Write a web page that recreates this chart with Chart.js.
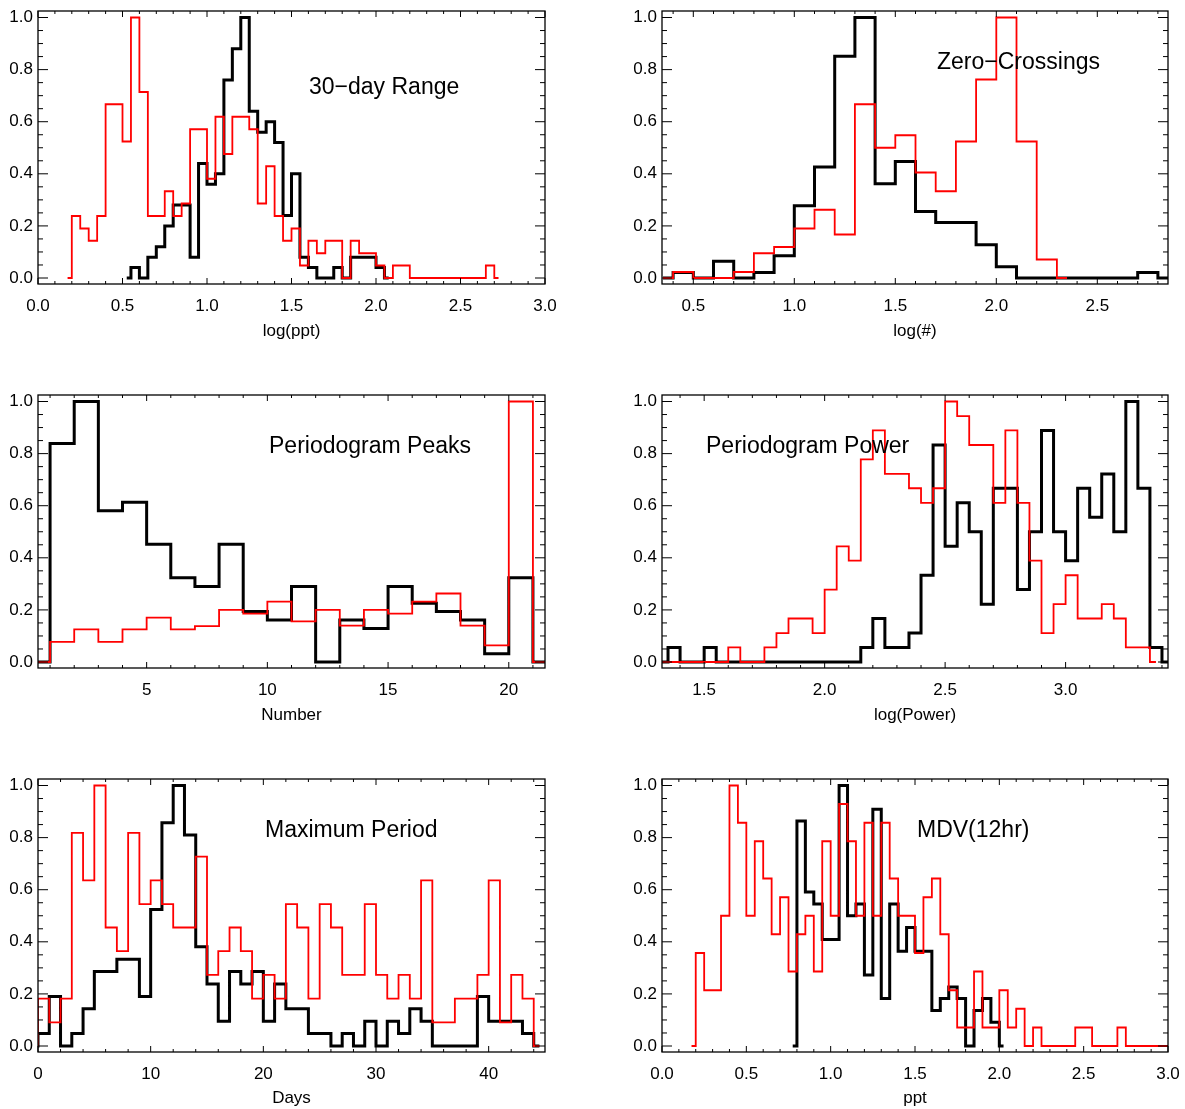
<!DOCTYPE html>
<html>
<head>
<meta charset="utf-8">
<script src="https://cdn.jsdelivr.net/npm/chart.js@4.4.1/dist/chart.umd.min.js"></script>
<style>
  body { margin: 0; background: #fff; overflow: hidden; }
  canvas { position: absolute; }
</style>
</head>
<body>
<canvas id="range" style="left:0;top:0" width="560" height="342"></canvas>
<canvas id="cross" style="left:622px;top:0" width="561" height="342"></canvas>
<canvas id="peaks" style="left:0;top:384px" width="560" height="342"></canvas>
<canvas id="power" style="left:622px;top:384px" width="561" height="342"></canvas>
<canvas id="period" style="left:0;top:768px" width="560" height="341"></canvas>
<canvas id="mdv" style="left:622px;top:768px" width="561" height="341"></canvas>
<script>
// bin centres (x) and normalised counts (y), black = first sample, red = second sample

// 30-day range, log(ppt)
const rangeBins = [0.175,0.225,0.275,0.325,0.375,0.425,0.475,0.525,0.575,0.625,0.675,0.725,0.775,0.825,0.875,0.925,0.975,1.025,1.075,1.125,1.175,1.225,1.275,1.325,1.375,1.425,1.475,1.525,1.575,1.625,1.675,1.725,1.775,1.825,1.875,1.925,1.975,2.025,2.075,2.125,2.175,2.225,2.275,2.325,2.375,2.425,2.475,2.525,2.575,2.625,2.675,2.725];
const rangeRed = [0,0.238,0.19,0.143,0.238,0.667,0.667,0.524,1.0,0.714,0.238,0.238,0.333,0.238,0.286,0.571,0.571,0.381,0.619,0.476,0.619,0.619,0.571,0.286,0.429,0.238,0.143,0.19,0.048,0.143,0.095,0.143,0.143,0,0.143,0.095,0.095,0.048,0,0.048,0.048,0,0,0,0,0,0,0,0,0,0.048,0];
const rangeBlack = [0,0.04,0,0.08,0.12,0.2,0.28,0.28,0.08,0.44,0.36,0.4,0.76,0.88,1.0,0.64,0.56,0.6,0.52,0.24,0.4,0.08,0.04,0,0,0.04,0,0.08,0.08,0.08,0.04,0];

// zero-crossings, log(#)
const crossBins = [0.35,0.45,0.55,0.65,0.75,0.85,0.95,1.05,1.15,1.25,1.35,1.45,1.55,1.65,1.75,1.85,1.95,2.05,2.15,2.25,2.35,2.45,2.55,2.65,2.75,2.85];
const crossRed = [0,0.023,0,0,0.023,0.095,0.119,0.19,0.262,0.167,0.667,0.5,0.548,0.405,0.333,0.524,0.762,1.0,0.524,0.071,0];
const crossBlack = [0,0.021,0,0.064,0,0.021,0.085,0.277,0.426,0.851,1.0,0.362,0.447,0.255,0.213,0.213,0.128,0.043,0,0,0,0,0,0,0.021,0];

// periodogram peaks, number
const peakBins = [0.5,1.5,2.5,3.5,4.5,5.5,6.5,7.5,8.5,9.5,10.5,11.5,12.5,13.5,14.5,15.5,16.5,17.5,18.5,19.5,20.5,21.5];
const peakRed = [0,0.077,0.125,0.077,0.125,0.17,0.125,0.138,0.2,0.186,0.232,0.156,0.2,0.14,0.2,0.186,0.232,0.263,0.14,0.064,1.0,0];
const peakBlack = [0,0.839,1.0,0.581,0.613,0.452,0.323,0.29,0.452,0.194,0.161,0.29,0,0.161,0.129,0.29,0.226,0.194,0.161,0.032,0.323,0];

// periodogram power, log(power)
const powerBins = [1.325,1.375,1.425,1.475,1.525,1.575,1.625,1.675,1.725,1.775,1.825,1.875,1.925,1.975,2.025,2.075,2.125,2.175,2.225,2.275,2.325,2.375,2.425,2.475,2.525,2.575,2.625,2.675,2.725,2.775,2.825,2.875,2.925,2.975,3.025,3.075,3.125,3.175,3.225,3.275,3.325,3.375,3.425];
const powerRed = [0,0,0,0,0,0,0.056,0,0,0.056,0.111,0.167,0.167,0.111,0.278,0.444,0.389,0.778,0.889,0.722,0.722,0.667,0.611,0.667,1.0,0.944,0.833,0.833,0.611,0.889,0.611,0.389,0.111,0.222,0.333,0.167,0.167,0.222,0.167,0.056,0.056,0];
const powerBlack = [0,0.056,0,0,0.056,0,0,0,0,0,0,0,0,0,0,0,0,0.056,0.167,0.056,0.056,0.111,0.333,0.833,0.444,0.611,0.5,0.222,0.667,0.667,0.278,0.5,0.889,0.5,0.389,0.667,0.556,0.722,0.5,1.0,0.667,0.056,0];

// maximum period, days
const periodBins = [-0.5,0.5,1.5,2.5,3.5,4.5,5.5,6.5,7.5,8.5,9.5,10.5,11.5,12.5,13.5,14.5,15.5,16.5,17.5,18.5,19.5,20.5,21.5,22.5,23.5,24.5,25.5,26.5,27.5,28.5,29.5,30.5,31.5,32.5,33.5,34.5,35.5,36.5,37.5,38.5,39.5,40.5,41.5,42.5,43.5,44.5];
const periodRed = [0,0.182,0.091,0.182,0.818,0.636,1.0,0.455,0.364,0.818,0.545,0.636,0.545,0.455,0.455,0.727,0.273,0.364,0.455,0.364,0.182,0.273,0.182,0.545,0.455,0.182,0.545,0.455,0.273,0.273,0.545,0.273,0.182,0.273,0.182,0.636,0.091,0.091,0.182,0.182,0.273,0.636,0.091,0.273,0.182,0];
const periodBlack = [0,0.048,0.19,0,0.048,0.143,0.286,0.286,0.333,0.333,0.19,0.524,0.857,1.0,0.81,0.381,0.238,0.095,0.286,0.238,0.286,0.095,0.238,0.143,0.143,0.048,0.048,0,0.048,0,0.095,0,0.095,0.048,0.143,0.095,0,0,0,0,0.19,0.095,0.095,0.095,0.048,0];

// MDV(12hr), ppt
const mdvBins = [0.175,0.225,0.275,0.325,0.375,0.425,0.475,0.525,0.575,0.625,0.675,0.725,0.775,0.825,0.875,0.925,0.975,1.025,1.075,1.125,1.175,1.225,1.275,1.325,1.375,1.425,1.475,1.525,1.575,1.625,1.675,1.725,1.775,1.825,1.875,1.925,1.975,2.025,2.075,2.125,2.175,2.225,2.275,2.325,2.375,2.425,2.475,2.525,2.575,2.625,2.675,2.725,2.775,2.825,2.875,2.925,2.975,3.025];
const mdvRed = [0,0.357,0.214,0.214,0.5,1.0,0.857,0.5,0.786,0.643,0.429,0.571,0.286,0.429,0.5,0.286,0.786,0.5,0.929,0.786,0.5,0.857,0.5,0.857,0.643,0.5,0.5,0.357,0.571,0.643,0.429,0.214,0.071,0.071,0.286,0.071,0.071,0.214,0.071,0.143,0,0.071,0,0,0,0,0.071,0.071,0,0,0,0.071,0,0,0,0,0,0];
const mdvBlack = [0,0.864,0.591,0.545,0.409,0.409,1.0,0.5,0.545,0.273,0.909,0.182,0.545,0.364,0.455,0.364,0.364,0.136,0.182,0.227,0.182,0,0.136,0.182,0.091,0];

const FONT = '"Liberation Sans", Arial, Helvetica, sans-serif';

function marks(scale, minor, major, draw) {
  const first = Math.ceil(scale.min / minor - 1e-6);
  const last = Math.floor(scale.max / minor + 1e-6);
  for (let i = first; i <= last; i++) {
    const r = (i * minor) / major;
    draw(scale.getPixelForValue(i * minor), Math.abs(r - Math.round(r)) < 1e-6);
  }
}

// IDL-style box with inward ticks on all four sides, plus the panel label
const frame = {
  id: 'frame',
  afterDatasetsDraw(chart, args, o) {
    const { ctx, chartArea: a } = chart;
    ctx.save();
    ctx.strokeStyle = '#000';
    ctx.lineWidth = 1;
    ctx.beginPath();
    marks(chart.scales.x, o.xMinor, o.xMajor, (p, big) => {
      const len = big ? 6 : 3;
      ctx.moveTo(p, a.bottom); ctx.lineTo(p, a.bottom - len);
      ctx.moveTo(p, a.top); ctx.lineTo(p, a.top + len);
    });
    marks(chart.scales.y, 0.05, 0.2, (p, big) => {
      const len = big ? 10 : 5;
      ctx.moveTo(a.left, p); ctx.lineTo(a.left + len, p);
      ctx.moveTo(a.right, p); ctx.lineTo(a.right - len, p);
    });
    ctx.stroke();
    ctx.lineWidth = 1.3;
    ctx.strokeRect(a.left, a.top, a.width, a.height);
    ctx.fillStyle = '#000';
    ctx.font = '23px ' + FONT;
    ctx.textBaseline = 'alphabetic';
    ctx.fillText(o.label, a.left + o.dx, a.top + o.dy);
    ctx.restore();
  }
};

function hist(bins, values, color, width) {
  return {
    data: values.map((v, i) => ({ x: bins[i], y: v })),
    borderColor: color,
    borderWidth: width,
    stepped: 'middle',
    pointRadius: 0,
    fill: false,
    clip: 0
  };
}

function panel(id, o) {
  new Chart(document.getElementById(id), {
    type: 'line',
    data: {
      datasets: [
        hist(o.redX, o.red, '#ff0000', 1.8),
        hist(o.blackX, o.black, '#000000', 3)
      ]
    },
    options: {
      responsive: false,
      animation: false,
      devicePixelRatio: 1,
      layout: { padding: { top: 11, right: 15, left: 0, bottom: 0 } },
      plugins: {
        legend: { display: false },
        tooltip: { enabled: false },
        frame: { label: o.label, dx: o.dx, dy: o.dy, xMinor: o.xMinor, xMajor: o.step }
      },
      scales: {
        x: {
          type: 'linear',
          min: o.min,
          max: o.max,
          afterFit: s => { s.height = o.axisH; s.paddingLeft = 0; s.paddingRight = 0; },
          grid: { display: false, drawTicks: false },
          border: { display: false },
          ticks: {
            stepSize: o.step,
            includeBounds: false,
            autoSkip: false,
            maxRotation: 0,
            padding: 12,
            color: '#000',
            font: { family: FONT, size: 17 },
            callback: v => v.toFixed(o.digits)
          },
          title: {
            display: true,
            text: o.title,
            color: '#000',
            padding: 0,
            font: { family: FONT, size: 17 }
          }
        },
        y: {
          min: -0.023,
          max: 1.025,
          afterFit: s => { s.width = o.yWidth; s.paddingTop = 0; s.paddingBottom = 0; },
          grid: { display: false, drawTicks: false },
          border: { display: false },
          ticks: {
            stepSize: 0.2,
            includeBounds: false,
            autoSkip: false,
            padding: 5,
            color: '#000',
            font: { family: FONT, size: 17 },
            callback: v => v.toFixed(1)
          }
        }
      }
    },
    plugins: [frame]
  });
}

panel('range', {
  redX: rangeBins, red: rangeRed, blackX: rangeBins.slice(7, 39), black: rangeBlack,
  min: 0, max: 3, step: 0.5, xMinor: 0.1, digits: 1, yWidth: 38, axisH: 58,
  title: 'log(ppt)', label: '30\u2212day Range', dx: 271, dy: 83
});
panel('cross', {
  redX: crossBins.slice(0, 21), red: crossRed, blackX: crossBins, black: crossBlack,
  min: 0.345, max: 2.85, step: 0.5, xMinor: 0.1, digits: 1, yWidth: 40, axisH: 58,
  title: 'log(#)', label: 'Zero\u2212Crossings', dx: 275, dy: 58
});
panel('peaks', {
  redX: peakBins, red: peakRed, blackX: peakBins, black: peakBlack,
  min: 0.5, max: 21.5, step: 5, xMinor: 1, digits: 0, yWidth: 38, axisH: 58,
  title: 'Number', label: 'Periodogram Peaks', dx: 231, dy: 58
});
panel('power', {
  redX: powerBins.slice(0, 42), red: powerRed, blackX: powerBins, black: powerBlack,
  min: 1.325, max: 3.425, step: 0.5, xMinor: 0.1, digits: 1, yWidth: 40, axisH: 58,
  title: 'log(Power)', label: 'Periodogram Power', dx: 44, dy: 58
});
panel('period', {
  redX: periodBins, red: periodRed, blackX: periodBins, black: periodBlack,
  min: 0, max: 45, step: 10, xMinor: 2, digits: 0, yWidth: 38, axisH: 57,
  title: 'Days', label: 'Maximum Period', dx: 227, dy: 58
});
panel('mdv', {
  redX: mdvBins, red: mdvRed, blackX: mdvBins.slice(12, 38), black: mdvBlack,
  min: 0, max: 3, step: 0.5, xMinor: 0.1, digits: 1, yWidth: 40, axisH: 57,
  title: 'ppt', label: 'MDV(12hr)', dx: 255, dy: 58
});
</script>
</body>
</html>
